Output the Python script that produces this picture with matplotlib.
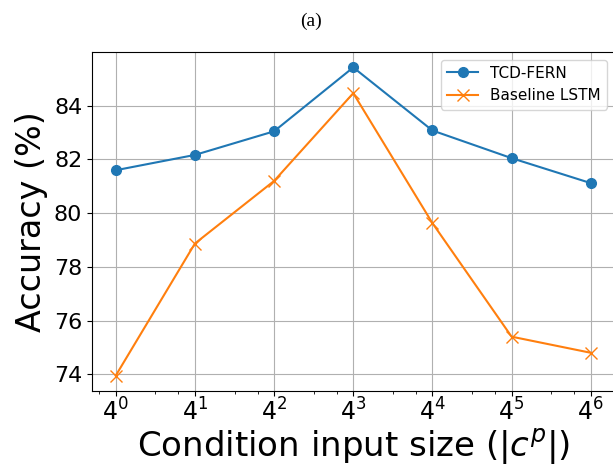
import numpy as np
import matplotlib
matplotlib.use("Agg")
import matplotlib.pyplot as plt
from matplotlib.ticker import LogLocator, LogFormatterMathtext

# condition input sizes (powers of 4)
exponents = [0, 1, 2, 3, 4, 5, 6]
tcd_fern = [81.6, 82.17, 83.05, 85.43, 83.08, 82.05, 81.12]
baseline_lstm = [73.95, 78.87, 81.2, 84.47, 79.63, 75.4, 74.8]

sizes = [4 ** e for e in exponents]

fig = plt.figure(figsize=(6.13, 4.66), dpi=100)
ax = fig.add_axes([92 / 613, 1 - 391 / 466, (614.5 - 92) / 613, (391 - 52) / 466])

ax.plot(sizes, tcd_fern, marker='o', markersize=7, linewidth=1.5, label='TCD-FERN')
ax.plot(sizes, baseline_lstm, marker='x', markersize=8, linewidth=1.5, label='Baseline LSTM')

ax.set_xscale('log', base=4)
ax.xaxis.set_major_locator(LogLocator(base=4))
ax.xaxis.set_major_formatter(LogFormatterMathtext(base=4))
ax.xaxis.set_minor_locator(LogLocator(base=4, subs=[2, 3]))

ax.set_yticks([74, 76, 78, 80, 82, 84])
ax.tick_params(axis='x', which='major', labelsize=17, pad=2)
ax.tick_params(axis='y', which='major', labelsize=16)
ax.grid(True, which='major')

ax.set_xlabel(r'Condition input size ($|c^p|$)', fontsize=24.5, labelpad=1)
ax.set_ylabel('Accuracy (%)', fontsize=24)

ax.legend(loc='upper right', fontsize=11)

fig.text(311 / 613, 1 - 21 / 466, '(a)', family='Liberation Serif', fontsize=14, ha='center', va='center')

fig.savefig('out.png', dpi=100)
